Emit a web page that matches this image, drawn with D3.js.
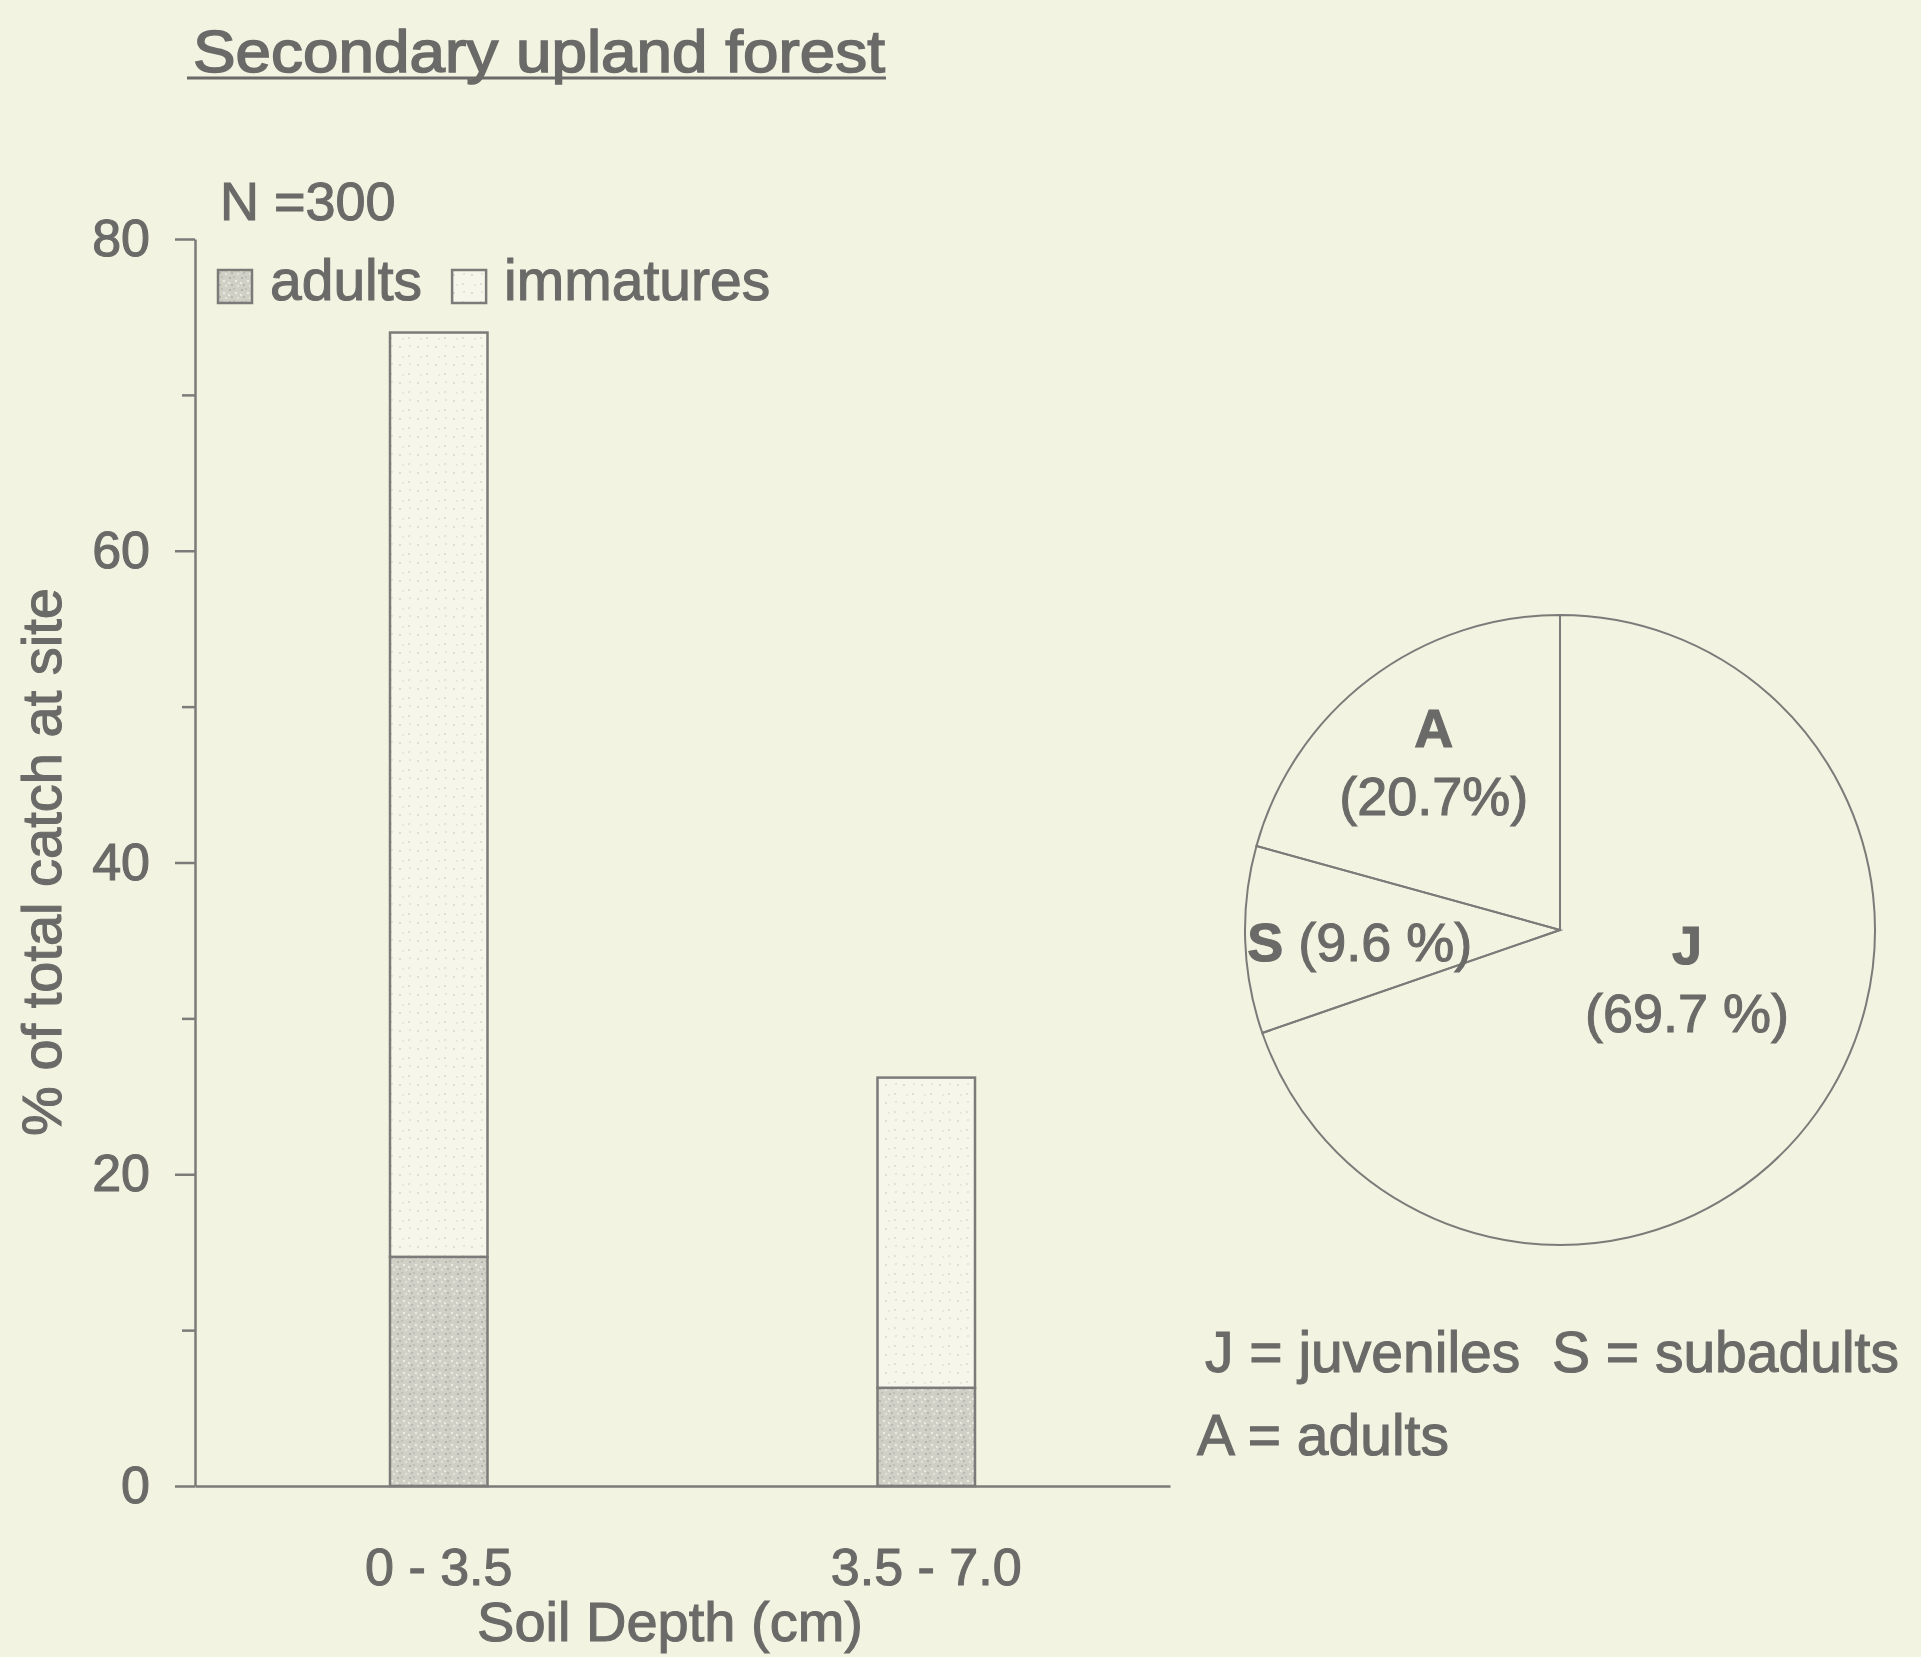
<!DOCTYPE html>
<html>
<head>
<meta charset="utf-8">
<script src="https://cdn.jsdelivr.net/npm/d3@7"></script>
<style>
body { margin: 0; background: #f3f3e1; }
text { font-family: "Liberation Sans", Arial, Helvetica, sans-serif; fill: #6a6a68; stroke: #6a6a68; stroke-width: 1.1px; }
</style>
</head>
<body>
<svg class="plot" width="1921" height="1657"></svg>
<script>
// data
var categories = ["0 - 3.5", "3.5 - 7.0"];
var adults = [14.7, 6.3];
var immatures = [59.3, 19.9];
var yTickValues = [0, 10, 20, 30, 40, 50, 60, 70, 80];
var legendKeys = ["adults", "immatures"];
var sampleLabel = "N =300";

var pieGroups = ["J", "S", "A"];
var pieShares = [69.7, 9.6, 20.7];
var pieLabels = [["J", "(69.7 %)"], ["S", " (9.6 %)"], ["A", "(20.7%)"]];
var keyLines = ["J = juveniles  S = subadults", "A = adults"];

var svg = d3.select(".plot"),
    ink = "#6a6a68",
    lineInk = "#7b7b79",
    font = "Liberation Sans, Arial, Helvetica, sans-serif";

svg.append("rect").attr("width", 1921).attr("height", 1657).attr("fill", "#f3f3e1");

//fill patterns for the stippled bars
var defs = svg.append("defs");
var pa = defs.append("pattern").attr("id", "adultFill")
    .attr("patternUnits", "userSpaceOnUse").attr("width", 12).attr("height", 12);
pa.append("rect").attr("width", 12).attr("height", 12).attr("fill", "#d0d0c6");
[[1, 1, "#b4b4ac"], [7, 4, "#ececE2"], [3, 8, "#b8b8b0"], [9, 9, "#e4e4da"], [5, 0, "#c0c0b8"], [0, 6, "#e8e8de"]]
  .forEach(function(p) {
    pa.append("rect").attr("x", p[0]).attr("y", p[1]).attr("width", 2).attr("height", 2).attr("fill", p[2]);
  });
var pi = defs.append("pattern").attr("id", "immatureFill")
    .attr("patternUnits", "userSpaceOnUse").attr("width", 18).attr("height", 18);
pi.append("rect").attr("width", 18).attr("height", 18).attr("fill", "#f6f6eb");
[[3, 4, "#dcdcd1"], [12, 13, "#e0e0d5"], [13, 3, "#e5e5da"], [6, 14, "#e8e8dd"]]
  .forEach(function(p) {
    pi.append("rect").attr("x", p[0]).attr("y", p[1]).attr("width", 2).attr("height", 2).attr("fill", p[2]);
  });
var fills = {adults: "url(#adultFill)", immatures: "url(#immatureFill)"};

//title
svg.append("text")
    .attr("x", 193).attr("y", 72)
    .style("font-size", "60px")
    .style("stroke-width", "1.6px")
    .attr("textLength", 692).attr("lengthAdjust", "spacingAndGlyphs")
    .text("Secondary upland forest");
svg.append("line")
    .attr("x1", 187).attr("x2", 886).attr("y1", 78).attr("y2", 78)
    .attr("stroke", ink).attr("stroke-width", 3);

//scales
var x = d3.scaleBand().domain(categories).range([195, 1170]).paddingInner(0.8).paddingOuter(0.4),
    y = d3.scaleLinear().domain([0, 80]).range([1486, 239]);

//axes
var yAxis = svg.append("g")
    .attr("transform", "translate(" + x.range()[0] + ",0)")
    .call(d3.axisLeft(y).tickValues(yTickValues).tickSize(20).tickPadding(25)
      .tickSizeOuter(0).tickFormat(d3.format("d")));
yAxis.attr("color", lineInk).attr("font-family", font).attr("font-size", 52);
yAxis.selectAll("path, line").attr("stroke-width", 2.5);
yAxis.selectAll("text").style("fill", ink);
yAxis.selectAll(".tick").filter(function(d) { return d % 20 !== 0; })
    .call(function(t) { t.select("line").attr("x2", -13); t.select("text").remove(); });

var xAxis = svg.append("g")
    .attr("transform", "translate(0," + y(0) + ")")
    .call(d3.axisBottom(x).tickSize(0).tickSizeOuter(0).tickPadding(62));
xAxis.attr("color", lineInk).attr("font-family", font).attr("font-size", 52);
xAxis.select(".domain").attr("stroke-width", 2.5);
xAxis.selectAll("text").style("fill", ink);

svg.append("text")
    .attr("transform", "translate(61,862) rotate(-90)")
    .attr("text-anchor", "middle")
    .style("font-size", "56px")
    .text("% of total catch at site");

svg.append("text")
    .attr("x", 670).attr("y", 1641)
    .attr("text-anchor", "middle")
    .style("font-size", "56px")
    .text("Soil Depth (cm)");

//stacked bars
var table = categories.map(function(c, i) {
  return {depth: c, adults: adults[i], immatures: immatures[i]};
});
var series = d3.stack().keys(legendKeys)(table);

svg.selectAll(".layer")
    .data(series)
    .enter().append("g")
    .attr("class", "layer")
    .attr("fill", function(d) { return fills[d.key]; })
    .selectAll("rect")
    .data(function(d) { return d; })
    .enter().append("rect")
    .attr("x", function(d) { return x(d.data.depth); })
    .attr("y", function(d) { return y(d[1]); })
    .attr("width", x.bandwidth())
    .attr("height", function(d) { return y(d[0]) - y(d[1]); })
    .attr("stroke", lineInk)
    .attr("stroke-width", 2.5);

//legend
svg.append("text")
    .attr("x", 220).attr("y", 220)
    .style("font-size", "54px")
    .text(sampleLabel);

var cursor = 218;
legendKeys.forEach(function(k) {
  svg.append("rect")
      .attr("x", cursor).attr("y", 270)
      .attr("width", 34).attr("height", 33)
      .attr("fill", fills[k])
      .attr("stroke", lineInk).attr("stroke-width", 2.5);
  var t = svg.append("text")
      .attr("x", cursor + 52).attr("y", 300)
      .style("font-size", "57px")
      .text(k);
  cursor = cursor + 52 + t.node().getComputedTextLength() + 30;
});

//pie of age classes
var cx = 1560, cy = 930, radius = 315;
var pie = d3.pie().sort(null).value(function(d) { return d; });
var arc = d3.arc().innerRadius(0).outerRadius(radius);
var labelArc = d3.arc().innerRadius(radius * 0.62).outerRadius(radius * 0.62);
var labelShift = {J: [-32, -59], S: [-5, 25], A: [-8, -8]};

var pg = svg.append("g").attr("transform", "translate(" + cx + "," + cy + ")");
var slices = pie(pieShares);

pg.selectAll("path")
    .data(slices)
    .enter().append("path")
    .attr("d", arc)
    .attr("fill", "none")
    .attr("stroke", lineInk)
    .attr("stroke-width", 2);

slices.forEach(function(s, i) {
  var key = pieGroups[i],
      c = labelArc.centroid(s),
      px = c[0] + labelShift[key][0],
      py = c[1] + labelShift[key][1],
      lines = pieLabels[i];
  if (key === "S") {
    var t = pg.append("text").attr("x", px).attr("y", py)
        .attr("text-anchor", "middle").style("font-size", "54px")
        .style("white-space", "pre");
    t.append("tspan").style("font-weight", "bold").text(lines[0]);
    t.append("tspan").text(lines[1]);
  } else {
    pg.append("text").attr("x", px).attr("y", py - 20)
        .attr("text-anchor", "middle").style("font-size", "54px")
        .style("font-weight", "bold").text(lines[0]);
    pg.append("text").attr("x", px).attr("y", py + 48)
        .attr("text-anchor", "middle").style("font-size", "54px")
        .text(lines[1]);
  }
});

//key to the pie letters
keyLines.forEach(function(l, i) {
  svg.append("text")
      .attr("x", i === 0 ? 1205 : 1197)
      .attr("y", 1372 + i * 83)
      .style("font-size", "57px")
      .style("white-space", "pre")
      .text(l);
});
</script>
</body>
</html>
